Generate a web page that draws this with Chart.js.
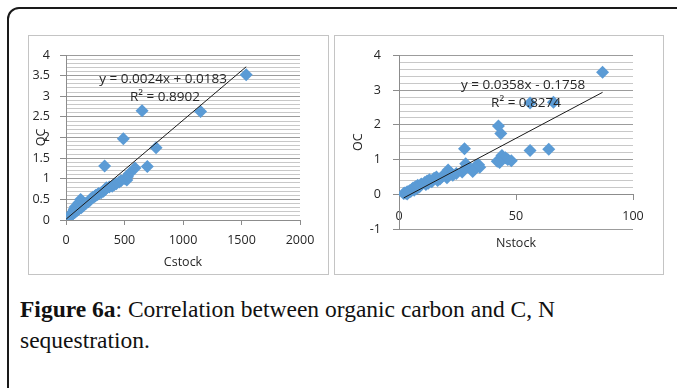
<!DOCTYPE html>
<html lang="en">
<head>
<meta charset="UTF-8">
<title>Figure 6a</title>
<style>
  body { margin:0; background:#fff; }
  .page { position:relative; width:677px; height:388px; overflow:hidden; }
  .frame { position:absolute; left:7px; top:7px; width:720px; height:392px; border:2px solid #1a1a1a; border-radius:12px; box-sizing:border-box; }
  .box { position:absolute; border:1px solid #c4c4c4; box-sizing:border-box; background:#fff; }
  #boxC { left:28px; top:35px; width:301px; height:240px; }
  #boxN { left:334px; top:35px; width:330px; height:240px; }
  .caption { position:absolute; left:20px; top:294px; font-family:"Liberation Serif", serif; font-size:23.5px; line-height:31px; color:#111; white-space:nowrap; }
</style>
</head>
<body>
<div class="page">
  <div class="frame"></div>
  <div class="box" id="boxC"><canvas id="cChart"></canvas></div>
  <div class="box" id="boxN"><canvas id="nChart"></canvas></div>
  <div class="caption"><b>Figure 6a</b>: Correlation between organic carbon and C, N<br>sequestration.</div>
</div>

<script src="https://cdn.jsdelivr.net/npm/chart.js@4.4.4/dist/chart.umd.min.js"></script>
<script>
// samples: organic carbon with the matching C and N stock
const ocValues = [3.52, 2.65, 2.63, 1.97, 1.75, 1.31, 1.30, 1.26, 1.12, 1.05, 1.00, 0.97, 0.95, 0.92, 0.88, 0.85, 0.82, 0.80, 0.78, 0.74,
                  0.70, 0.66, 0.64, 0.62, 0.60, 0.57, 0.55, 0.52, 0.50, 0.48, 0.46, 0.44, 0.42, 0.40, 0.38, 0.36, 0.34, 0.32, 0.30, 0.28,
                  0.26, 0.24, 0.22, 0.20, 0.18, 0.16, 0.14, 0.12, 0.10, 0.08, 0.07, 0.05, 0.04, 0.03, 0.02, 0.01];
const cStock = [1540, 650, 1150, 490, 770, 330, 695, 590, 540, 525, 505, 520, 470, 455, 430, 410, 395, 370, 345, 335,
                320, 300, 280, 270, 255, 245, 230, 215, 125, 205, 135, 190, 110, 170, 160, 100, 145, 80, 130, 115,
                70, 100, 90, 60, 75, 62, 50, 45, 38, 30, 24, 18, 12, 8, 5, 2];
const nStock = [87, 66, 56, 42.5, 43.5, 28, 64, 56, 44, 45.5, 46.5, 48, 42, 43, 28.5, 34, 33, 29, 34.5, 32.5,
                21, 31.5, 27, 22, 24.5, 20, 23, 18.5, 16, 20.5, 15, 17.5, 13, 16.5, 12, 14, 11, 12.5, 9.5, 11.5,
                8, 9, 7, 8.5, 6, 7.5, 5.5, 6.5, 4.5, 5, 3.5, 4, 2.5, 3, 2, 3.5];

// trend lines as printed on the chart: [slope, intercept]
const cTrend = [0.0024, 0.0183];
const nTrend = [0.0358, -0.1758];
const cLabels = ['y = 0.0024x + 0.0183', 'R\u00B2 = 0.8902'];
const nLabels = ['y = 0.0358x - 0.1758', 'R\u00B2 = 0.8274'];

// axis ranges
const cAxisX = [0, 2000, 500];
const cAxisY = [0, 4, 0.1, 0.5];   // min, max, minor step, labelled step
const nAxisX = [0, 100, 50];
const nAxisY = [-1, 4, 0.2, 1];

const markerColor = '#5b9bd5';
const textColor = '#262626';
const tickFont = { family: 'Open Sans', size: 12.5 };

function points(xs) {
    return xs.map((x, i) => ({ x: x, y: ocValues[i] }));
}

function trendLine(xs, t) {
    const lo = Math.min(...xs), hi = Math.max(...xs);
    return [{ x: lo, y: t[0] * lo + t[1] }, { x: hi, y: t[0] * hi + t[1] }];
}

function onStep(v, step) {
    return Math.abs(v / step - Math.round(v / step)) < 1e-6;
}

// equation text and axis titles
function textPlugin(labels, eqAt, r2At, xTitle, yTitle, titlePos) {
    return {
        id: 'texts',
        afterDraw(chart) {
            const c = chart.ctx, a = chart.chartArea;
            const sx = chart.scales.x, sy = chart.scales.y;
            c.save();
            c.fillStyle = textColor;
            c.textAlign = 'center';
            c.textBaseline = 'middle';
            c.font = '13.5px "Open Sans"';
            c.fillText(labels[0], sx.getPixelForValue(eqAt[0]), sy.getPixelForValue(eqAt[1]));
            c.fillText(labels[1], sx.getPixelForValue(r2At[0]), sy.getPixelForValue(r2At[1]));
            c.font = '12.5px "Open Sans"';
            c.fillText(xTitle, (a.left + a.right) / 2, titlePos[0]);
            c.translate(a.left - titlePos[1], (a.top + a.bottom) / 2);
            c.rotate(-Math.PI / 2);
            c.fillText(yTitle, 0, 0);
            c.restore();
        }
    };
}

function makeChart(id, xs, trend, axX, axY, opts) {
    return new Chart(document.getElementById(id), {
        type: 'scatter',
        data: {
            datasets: [{
                type: 'line',
                data: trendLine(xs, trend),
                borderColor: '#1a1a1a',
                borderWidth: 1,
                pointRadius: 0,
                fill: false
            }, {
                data: points(xs),
                pointStyle: 'rectRot',
                pointRadius: 6.5,
                backgroundColor: markerColor,
                borderColor: markerColor,
                borderWidth: 0
            }]
        },
        options: {
            responsive: true,
            maintainAspectRatio: false,
            animation: false,
            layout: { padding: opts.padding },
            plugins: { legend: { display: false }, tooltip: { enabled: false } },
            scales: {
                x: {
                    type: 'linear',
                    position: opts.xPosition,
                    min: axX[0], max: axX[1],
                    ticks: { stepSize: axX[2], color: textColor, font: tickFont, padding: opts.xPad, maxRotation: 0,
                             callback: v => String(v) },
                    grid: { drawOnChartArea: false, tickLength: 5, color: '#8c8c8c' },
                    border: { color: '#8c8c8c' },
                    afterFit: s => { if (opts.xHeight) s.height = opts.xHeight; }
                },
                y: {
                    min: axY[0], max: axY[1],
                    ticks: {
                        stepSize: axY[2], autoSkip: false, color: textColor, font: tickFont, padding: opts.yPad,
                        callback: v => onStep(v, axY[3]) ? String(Math.round(v / axY[3]) * axY[3]) : ''
                    },
                    grid: {
                        tickLength: 6,
                        color: ctx => {
                            const v = ctx.tick.value;
                            if (onStep(v, axY[3])) return '#9c9c9c';
                            return v < 0 ? 'rgba(0,0,0,0)' : '#c8c8c8';
                        },
                        tickColor: ctx => onStep(ctx.tick.value, axY[3]) ? '#8c8c8c' : 'rgba(0,0,0,0)'
                    },
                    border: { color: '#8c8c8c' },
                    afterFit: s => { s.width = opts.yWidth; }
                }
            }
        },
        plugins: [textPlugin(opts.labels, opts.eqAt, opts.r2At, opts.xTitle, opts.yTitle, opts.titlePos)]
    });
}

makeChart('cChart', cStock, cTrend, cAxisX, cAxisY, {
    padding: { left: 0, top: 19, right: 28, bottom: 0 },
    xPosition: 'bottom', xHeight: 54, xPad: 8, yWidth: 37, yPad: 10,
    labels: cLabels, eqAt: [830, 3.42], r2At: [846, 2.98],
    xTitle: 'Cstock', yTitle: 'QC', titlePos: [226, 25]
});

makeChart('nChart', nStock, nTrend, nAxisX, nAxisY, {
    padding: { left: 0, top: 16, right: 30, bottom: 45 },
    xPosition: { y: 0 }, xHeight: 0, xPad: 10, yWidth: 64, yPad: 12,
    labels: nLabels, eqAt: [53, 3.15], r2At: [54.3, 2.64],
    xTitle: 'Nstock', yTitle: 'OC', titlePos: [207, 41]
});
</script>
</body>
</html>
